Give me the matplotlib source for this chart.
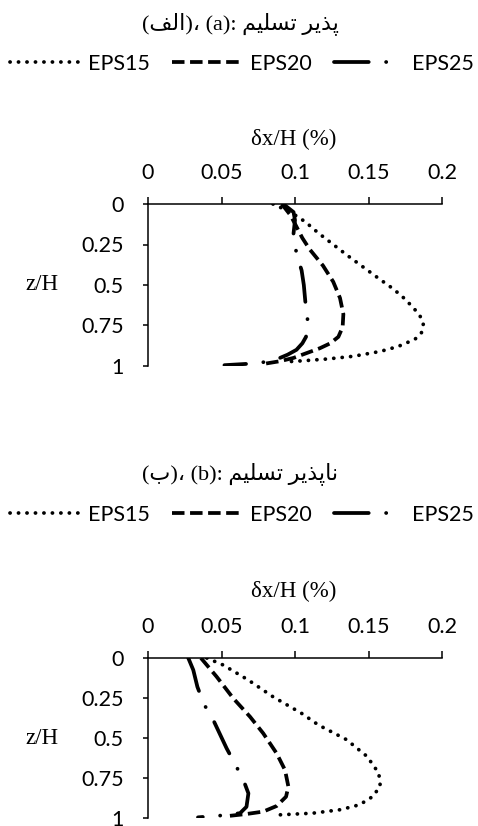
import numpy as np
import matplotlib
matplotlib.use("Agg")
import matplotlib.pyplot as plt
from matplotlib.lines import Line2D

plt.rcParams['lines.scale_dashes'] = False

W, H = 478, 826

# (a) yielding wall: depth ratio z/H and lateral displacement dx/H (%)
z15_a = [0.0, 0.05, 0.11, 0.18, 0.25, 0.32, 0.39, 0.46, 0.525, 0.58, 0.64, 0.69,
         0.74, 0.795, 0.835, 0.88, 0.91, 0.94, 0.957, 0.968, 0.975]
x15_a = [0.085, 0.097, 0.107, 0.116, 0.126, 0.136, 0.1465, 0.157, 0.167, 0.174, 0.1805,
         0.185, 0.1873, 0.186, 0.1816, 0.170, 0.158, 0.1397, 0.1216, 0.105, 0.092]
z20_a = [0.0, 0.07, 0.14, 0.21, 0.28, 0.38, 0.48, 0.58, 0.68, 0.76, 0.82, 0.86,
         0.89, 0.92, 0.95, 0.97, 0.985]
x20_a = [0.091, 0.097, 0.101, 0.105, 0.110, 0.119, 0.126, 0.1306, 0.1329, 0.1324,
         0.1295, 0.124, 0.117, 0.108, 0.099, 0.090, 0.080]
z25_a = [0.0, 0.05, 0.10, 0.19, 0.305, 0.41, 0.50, 0.60, 0.71, 0.82, 0.86, 0.90,
         0.93, 0.957, 0.975, 0.986, 0.995]
x25_a = [0.092, 0.099, 0.100, 0.0989, 0.101, 0.1045, 0.106, 0.107, 0.1085, 0.1075,
         0.105, 0.101, 0.095, 0.088, 0.080, 0.069, 0.052]

# (b) non-yielding wall
z15_b = [0.0, 0.044, 0.1375, 0.242, 0.346, 0.419, 0.51, 0.615, 0.72, 0.80, 0.865,
         0.917, 0.948, 0.97, 0.98]
x15_b = [0.040, 0.0512, 0.0682, 0.085, 0.1045, 0.116, 0.135, 0.149, 0.157, 0.158,
         0.153, 0.144, 0.131, 0.112, 0.090]
z20_b = [0.0, 0.117, 0.252, 0.367, 0.471, 0.596, 0.70, 0.804, 0.867, 0.925, 0.96,
         0.975, 0.99]
x20_b = [0.036, 0.0467, 0.058, 0.0694, 0.0784, 0.0875, 0.0932, 0.0955, 0.0939,
         0.0875, 0.0784, 0.067, 0.052]
z25_b = [0.0, 0.075, 0.18, 0.2875, 0.3875, 0.565, 0.6625, 0.7625, 0.846, 0.93, 0.97,
         0.985, 0.996]
x25_b = [0.0274, 0.0308, 0.0336, 0.038, 0.0444, 0.0535, 0.0592, 0.0649, 0.0683, 0.067,
         0.0626, 0.049, 0.034]

series = ['EPS15', 'EPS20', 'EPS25']
xticks = [0, 0.05, 0.1, 0.15, 0.2]
xticklabels = ['0', '0.05', '0.1', '0.15', '0.2']
yticks = [0, 0.25, 0.5, 0.75, 1]
yticklabels = ['0', '0.25', '0.5', '0.75', '1']

# Persian titles, pre-shaped (presentation forms, written in drawing order)
alef_word = '\uFED2\uFEDF\uFE8D'
taslim = '\uFEE2\uFBFF\uFEE0\uFEB4\uFE97'
pazir = '\uFEAE\uFBFE\uFEAC\uFB58'
napazir = '\uFEAE\uFBFE\uFEAC\uFB58\uFE8E\uFEE7'
beh = '\uFE8F'
title_a = '(' + alef_word + ')\u060C (a): ' + taslim + ' ' + pazir
title_b = '(' + beh + ')\u060C (b): ' + taslim + ' ' + napazir

styles = {
    'EPS15': dict(linestyle=(0, (0.1, 6.0)), dash_capstyle='round', lw=2.7),
    'EPS20': dict(linestyle=(0, (9, 4)), dash_capstyle='butt', lw=2.7),
    'EPS25': dict(linestyle=(0, (25, 12.5, 0.1, 12.5)), dash_capstyle='round', lw=2.7),
}

serif = ['Liberation Serif', 'DejaVu Sans']
sans = 'Lato'
tick_fs = 15.5
label_fs = 16.5


def fx(px):
    return px / W


def fy(py):
    return 1 - py / H


fig = plt.figure(figsize=(W / 100, H / 100), dpi=100)


def panel(top_px, bot_px, data, title, title_y, legend_y, xlabel_y):
    ax = fig.add_axes([fx(148), fy(bot_px), fx(442) - fx(148), fy(top_px) - fy(bot_px)])
    for name, (x, z) in zip(series, data):
        ax.plot(x, z, color='black', **styles[name])
    ax.set_xlim(0, 0.2)
    ax.set_ylim(1, 0)
    ax.xaxis.tick_top()
    ax.set_xticks(xticks)
    ax.set_xticklabels(xticklabels, fontfamily=sans, fontsize=tick_fs)
    ax.set_yticks(yticks)
    ax.set_yticklabels(yticklabels, fontfamily=sans, fontsize=tick_fs)
    ax.tick_params(axis='x', direction='out', length=5, width=1.1, pad=10)
    ax.tick_params(axis='y', direction='out', length=3.6, width=1.1, pad=14)
    for s in ['bottom', 'right']:
        ax.spines[s].set_visible(False)
    for s in ['top', 'left']:
        ax.spines[s].set_linewidth(1.1)
    fig.text(fx(294), fy(xlabel_y), '\u03b4x/H (%)', family=serif, fontsize=label_fs,
             ha='center', va='center')
    zmid = top_px + 0.5 * (bot_px - top_px)
    fig.text(fx(42), fy(zmid), 'z/H', family=serif, fontsize=label_fs,
             ha='center', va='center')
    fig.text(fx(240), fy(title_y), title, family=serif, fontsize=16,
             ha='center', va='center')
    handles = [Line2D([], [], color='black', **styles[n]) for n in series]
    fig.legend(handles, series, loc='center', bbox_to_anchor=(fx(242), fy(legend_y)),
               ncol=3, frameon=False, prop={'family': sans, 'size': tick_fs},
               handlelength=3.2, handletextpad=0.45, columnspacing=1.0,
               borderpad=0, borderaxespad=0)
    return ax


panel(204, 366, [(x15_a, z15_a), (x20_a, z20_a), (x25_a, z25_a)],
      title_a, 24, 64, 139)
panel(658, 818, [(x15_b, z15_b), (x20_b, z20_b), (x25_b, z25_b)],
      title_b, 474, 515, 591)

fig.savefig('out.png', dpi=100)
